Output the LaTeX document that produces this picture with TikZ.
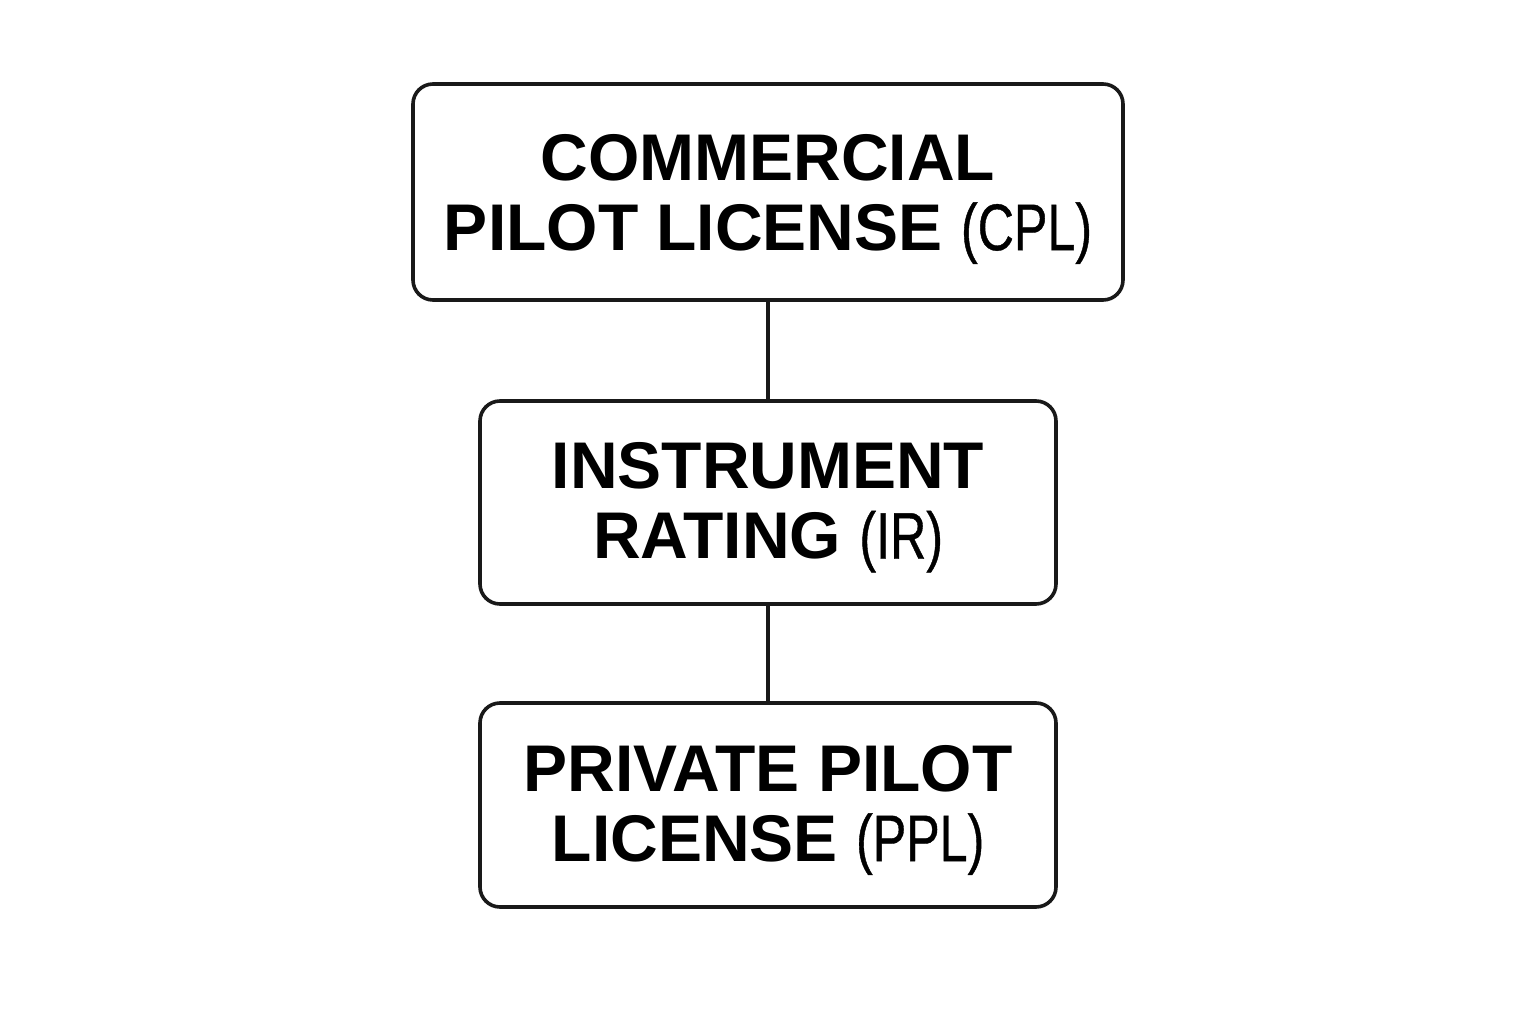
\documentclass[tikz,border=0pt]{standalone}
\usepackage{fontspec}
\setmainfont{Liberation Sans}
\newfontfamily\condfont[FakeStretch=0.76,FakeBold=0.6]{Liberation Sans}
\begin{document}
\begin{tikzpicture}[x=1pt,y=-1pt,
  box/.style={draw=black!90, line width=3.6pt, rounded corners=20pt, inner sep=0pt},
  lbl/.style={align=center, inner sep=0pt, font=\fontsize{66}{70}\selectfont\bfseries},
  link/.style={draw=black!90, line width=3.2pt}]
\useasboundingbox[fill=white] (0,0) rectangle (1536,1024);
\node[box, minimum width=710pt, minimum height=216pt] (cpl) at (768,192) {};
\node[box, minimum width=576pt, minimum height=203pt] (ir) at (768,502.5) {};
\node[box, minimum width=576pt, minimum height=204pt] (ppl) at (768,805) {};
\node[lbl, yshift=-7pt] (cpltext) at (cpl.center)
  {COMMERCIAL\\PILOT LICENSE {\condfont\mdseries(CPL)}};
\node[lbl, yshift=-5pt] (irtext) at (ir.center)
  {INSTRUMENT\\RATING {\condfont\mdseries(IR)}};
\node[lbl, yshift=-5pt] (ppltext) at (ppl.center)
  {PRIVATE PILOT\\LICENSE {\condfont\mdseries(PPL)}};
\draw[link] (cpl.south) -- (ir.north);
\draw[link] (ir.south) -- (ppl.north);
\end{tikzpicture}
\end{document}
